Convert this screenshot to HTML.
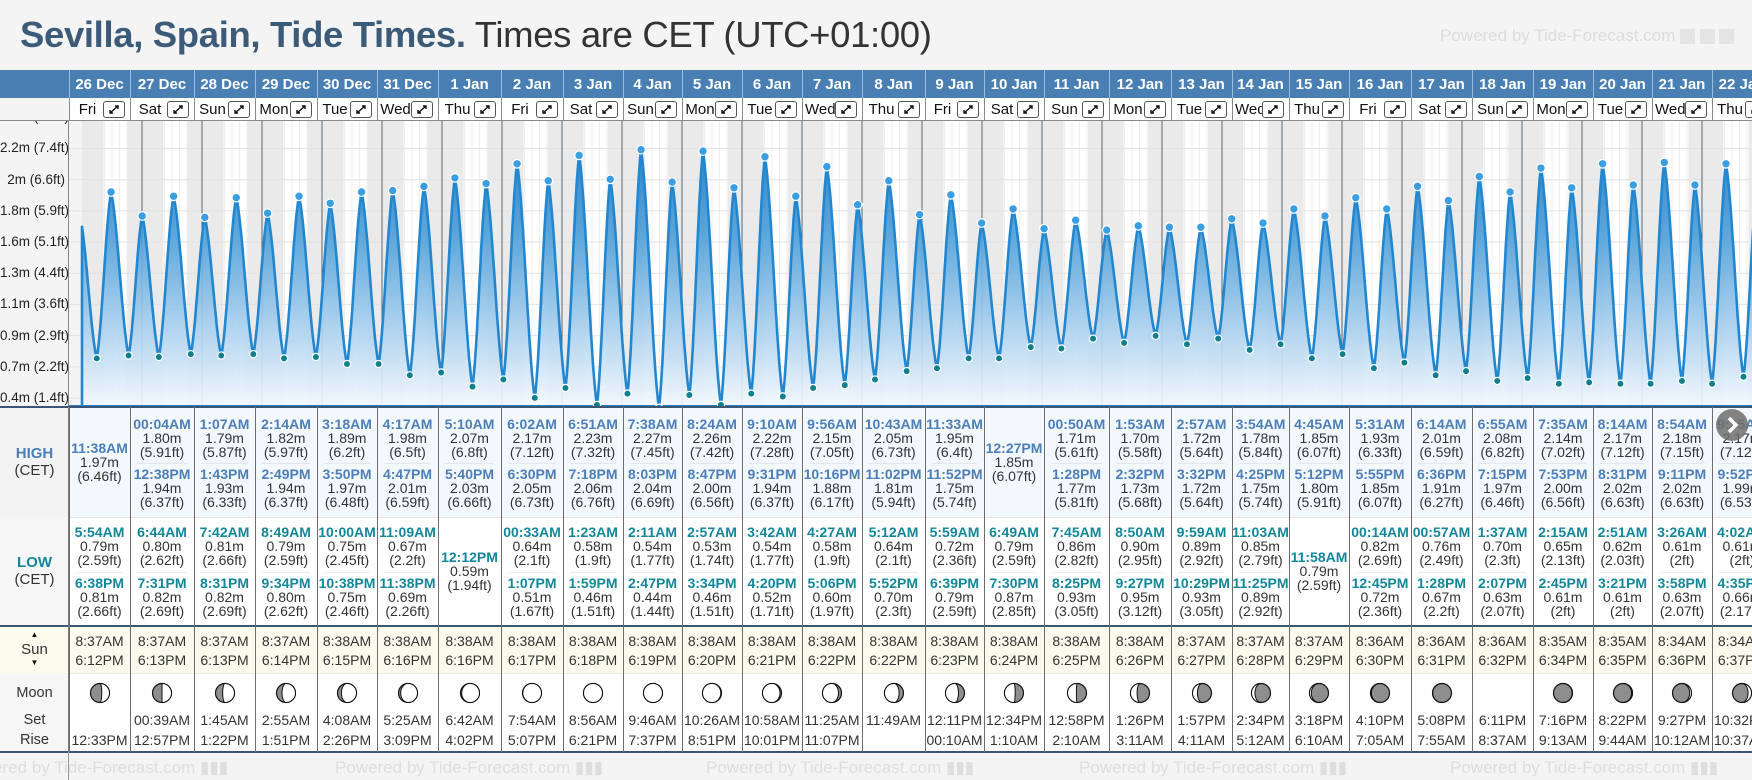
<!DOCTYPE html>
<html><head><meta charset="utf-8"><title>Sevilla Tide Times</title>
<style>
html,body{margin:0;padding:0;}
body{width:1752px;height:780px;overflow:hidden;background:#f4f4f4;font-family:"Liberation Sans",Arial,sans-serif;position:relative;}
.abs{position:absolute;}
.t{position:absolute;text-align:center;white-space:nowrap;font-size:14px;line-height:14px;color:#333;}
.tb{font-weight:bold;}
</style></head>
<body>
<div class="abs" style="left:20px;top:13px;font-size:36.5px;line-height:44px;white-space:nowrap;letter-spacing:-0.35px;">
<span style="font-weight:bold;color:#3b5b79;">Sevilla, Spain, Tide Times.</span>
<span style="color:#333;">Times are CET (UTC+01:00)</span></div>
<div class="abs" style="left:1440px;top:26px;font-size:17px;color:#dcdcdc;white-space:nowrap;">Powered by Tide-Forecast.com <span style="display:inline-block;width:15px;height:15px;background:#e4e4e4;vertical-align:middle"></span> <span style="display:inline-block;width:15px;height:15px;background:#e4e4e4;vertical-align:middle"></span> <span style="display:inline-block;width:15px;height:15px;background:#e4e4e4;vertical-align:middle"></span></div>

<div id="root"></div>
<svg id="chart" class="abs" style="left:0;top:0" width="1752" height="780"></svg>
<div id="tbl"></div>

<script>
// ---- data ----
const dates=['26 Dec','27 Dec','28 Dec','29 Dec','30 Dec','31 Dec','1 Jan','2 Jan','3 Jan','4 Jan','5 Jan','6 Jan','7 Jan','8 Jan','9 Jan','10 Jan','11 Jan','12 Jan','13 Jan','14 Jan','15 Jan','16 Jan','17 Jan','18 Jan','19 Jan','20 Jan','21 Jan','22 Jan'];
const weekdays=['Fri','Sat','Sun','Mon','Tue','Wed','Thu','Fri','Sat','Sun','Mon','Tue','Wed','Thu','Fri','Sat','Sun','Mon','Tue','Wed','Thu','Fri','Sat','Sun','Mon','Tue','Wed','Thu'];
const highT=[['11:38AM'],['00:04AM','12:38PM'],['1:07AM','1:43PM'],['2:14AM','2:49PM'],['3:18AM','3:50PM'],['4:17AM','4:47PM'],['5:10AM','5:40PM'],['6:02AM','6:30PM'],['6:51AM','7:18PM'],['7:38AM','8:03PM'],['8:24AM','8:47PM'],['9:10AM','9:31PM'],['9:56AM','10:16PM'],['10:43AM','11:02PM'],['11:33AM','11:52PM'],['12:27PM'],['00:50AM','1:28PM'],['1:53AM','2:32PM'],['2:57AM','3:32PM'],['3:54AM','4:25PM'],['4:45AM','5:12PM'],['5:31AM','5:55PM'],['6:14AM','6:36PM'],['6:55AM','7:15PM'],['7:35AM','7:53PM'],['8:14AM','8:31PM'],['8:54AM','9:11PM'],['9:35AM','9:52PM']];
const highM=[[1.97],[1.80,1.94],[1.79,1.93],[1.82,1.94],[1.89,1.97],[1.98,2.01],[2.07,2.03],[2.17,2.05],[2.23,2.06],[2.27,2.04],[2.26,2.00],[2.22,1.94],[2.15,1.88],[2.05,1.81],[1.95,1.75],[1.85],[1.71,1.77],[1.70,1.73],[1.72,1.72],[1.78,1.75],[1.85,1.80],[1.93,1.85],[2.01,1.91],[2.08,1.97],[2.14,2.00],[2.17,2.02],[2.18,2.02],[2.17,1.99]];
const highFt=[['6.46'],['5.91','6.37'],['5.87','6.33'],['5.97','6.37'],['6.2','6.48'],['6.5','6.59'],['6.8','6.66'],['7.12','6.73'],['7.32','6.76'],['7.45','6.69'],['7.42','6.56'],['7.28','6.37'],['7.05','6.17'],['6.73','5.94'],['6.4','5.74'],['6.07'],['5.61','5.81'],['5.58','5.68'],['5.64','5.64'],['5.84','5.74'],['6.07','5.91'],['6.33','6.07'],['6.59','6.27'],['6.82','6.46'],['7.02','6.56'],['7.12','6.63'],['7.15','6.63'],['7.12','6.53']];
const lowT=[['5:54AM','6:38PM'],['6:44AM','7:31PM'],['7:42AM','8:31PM'],['8:49AM','9:34PM'],['10:00AM','10:38PM'],['11:09AM','11:38PM'],['12:12PM'],['00:33AM','1:07PM'],['1:23AM','1:59PM'],['2:11AM','2:47PM'],['2:57AM','3:34PM'],['3:42AM','4:20PM'],['4:27AM','5:06PM'],['5:12AM','5:52PM'],['5:59AM','6:39PM'],['6:49AM','7:30PM'],['7:45AM','8:25PM'],['8:50AM','9:27PM'],['9:59AM','10:29PM'],['11:03AM','11:25PM'],['11:58AM'],['00:14AM','12:45PM'],['00:57AM','1:28PM'],['1:37AM','2:07PM'],['2:15AM','2:45PM'],['2:51AM','3:21PM'],['3:26AM','3:58PM'],['4:02AM','4:35PM']];
const lowM=[[0.79,0.81],[0.80,0.82],[0.81,0.82],[0.79,0.80],[0.75,0.75],[0.67,0.69],[0.59],[0.64,0.51],[0.58,0.46],[0.54,0.44],[0.53,0.46],[0.54,0.52],[0.58,0.60],[0.64,0.70],[0.72,0.79],[0.79,0.87],[0.86,0.93],[0.90,0.95],[0.89,0.93],[0.85,0.89],[0.79],[0.82,0.72],[0.76,0.67],[0.70,0.63],[0.65,0.61],[0.62,0.61],[0.61,0.63],[0.61,0.66]];
const lowFt=[['2.59','2.66'],['2.62','2.69'],['2.66','2.69'],['2.59','2.62'],['2.45','2.46'],['2.2','2.26'],['1.94'],['2.1','1.67'],['1.9','1.51'],['1.77','1.44'],['1.74','1.51'],['1.77','1.71'],['1.9','1.97'],['2.1','2.3'],['2.36','2.59'],['2.59','2.85'],['2.82','3.05'],['2.95','3.12'],['2.92','3.05'],['2.79','2.92'],['2.59'],['2.69','2.36'],['2.49','2.2'],['2.3','2.07'],['2.13','2'],['2.03','2'],['2','2.07'],['2','2.17']];
const sunRise=['8:37AM','8:37AM','8:37AM','8:37AM','8:38AM','8:38AM','8:38AM','8:38AM','8:38AM','8:38AM','8:38AM','8:38AM','8:38AM','8:38AM','8:38AM','8:38AM','8:38AM','8:38AM','8:37AM','8:37AM','8:37AM','8:36AM','8:36AM','8:36AM','8:35AM','8:35AM','8:34AM','8:34AM'];
const sunSet=['6:12PM','6:13PM','6:13PM','6:14PM','6:15PM','6:16PM','6:16PM','6:17PM','6:18PM','6:19PM','6:20PM','6:21PM','6:22PM','6:22PM','6:23PM','6:24PM','6:25PM','6:26PM','6:27PM','6:28PM','6:29PM','6:30PM','6:31PM','6:32PM','6:34PM','6:35PM','6:36PM','6:37PM'];
const moonSet=['','00:39AM','1:45AM','2:55AM','4:08AM','5:25AM','6:42AM','7:54AM','8:56AM','9:46AM','10:26AM','10:58AM','11:25AM','11:49AM','12:11PM','12:34PM','12:58PM','1:26PM','1:57PM','2:34PM','3:18PM','4:10PM','5:08PM','6:11PM','7:16PM','8:22PM','9:27PM','10:32PM'];
const moonRise=['12:33PM','12:57PM','1:22PM','1:51PM','2:26PM','3:09PM','4:02PM','5:07PM','6:21PM','7:37PM','8:51PM','10:01PM','11:07PM','','00:10AM','1:10AM','2:10AM','3:11AM','4:11AM','5:12AM','6:10AM','7:05AM','7:55AM','8:37AM','9:13AM','9:44AM','10:12AM','10:37AM'];
const moonPhase=[0.22,0.25,0.29,0.32,0.35,0.39,0.42,0.46,0.49,0.52,0.56,0.59,0.63,0.66,0.69,0.73,0.76,0.80,0.83,0.86,0.90,0.93,0.97,null,0.04,0.07,0.10,0.14];
const priorHigh={t:-0.83,m:1.80};
const tickVals=[0.509,0.730,0.951,1.173,1.394,1.615,1.836,2.057,2.279,2.500];
const tickLabels=['0.4m (1.4ft)','0.7m (2.2ft)','0.9m (2.9ft)','1.1m (3.6ft)','1.3m (4.4ft)','1.6m (5.1ft)','1.8m (5.9ft)','2m (6.6ft)','2.2m (7.4ft)','2.5m (8.1ft)'];

// ---- layout ----
const colX=[69,130,194,255,317,377,438,501,563,623,682,742,802,862,925,984,1044,1109,1171,1232,1289,1349,1411,1472,1533,1593,1652,1712,1772];
const CT=121,CB=407,CL=69;
function xT(h){return 82+h*2.5;}
function yV(v){return 192-(v-1.97)*141;}
function parseT(s){const m=s.match(/(\d+):(\d+)(AM|PM)/);let h=+m[1]%12;if(m[3]==='PM')h+=12;return h+ (+m[2])/60;}

const NS='http://www.w3.org/2000/svg';
const svg=document.getElementById('chart');
function S(tag,attrs,parent){const e=document.createElementNS(NS,tag);for(const k in attrs)e.setAttribute(k,attrs[k]);(parent||svg).appendChild(e);return e;}

const defs=S('defs',{});
const cp=S('clipPath',{id:'cc'},defs);S('rect',{x:CL,y:CT,width:1752-CL,height:CB-CT},cp);
const lg=S('linearGradient',{id:'fg',x1:0,y1:140,x2:0,y2:407,gradientUnits:'userSpaceOnUse'},defs);
[['0','#1f78c1'],['0.35','#4e9fd8'],['0.7','#a9d0ee'],['1','#f3f8fd']].forEach(s=>S('stop',{offset:s[0],'stop-color':s[1]},lg));

const g=S('g',{'clip-path':'url(#cc)'});


S('rect',{x:CL,y:CT,width:1752-CL,height:CB-CT,fill:'#ffffff'},g);
for(let h=3;h<28*24;h+=3){if(h%24===0)continue;S('line',{x1:xT(h),x2:xT(h),y1:CT,y2:CB,stroke:'#efefef','stroke-width':1},g);}
const nightG=S('g',{},g);


S('rect',{x:CL,y:CT,width:xT(parseT(sunRise[0]))-CL,height:CB-CT,fill:'#eaeaea'},nightG);
for(let d=0;d<dates.length;d++){
  const s=xT(d*24+parseT(sunSet[d]));
  const e=d+1<dates.length?xT((d+1)*24+parseT(sunRise[d+1])):1760;
  S('rect',{x:s,y:CT,width:e-s,height:CB-CT,fill:'#eaeaea'},nightG);
}
S('rect',{x:CL,y:CT,width:82-CL,height:CB-CT,fill:'#f4f4f4'},g);
tickVals.forEach(v=>S('line',{x1:CL,x2:1752,y1:yV(v),y2:yV(v),stroke:'#e2e2e2','stroke-width':1},g));
for(let d=1;d<dates.length;d++){const l=S('line',{x1:xT(d*24),x2:xT(d*24),y1:CT,y2:CB,stroke:'#56677a','stroke-width':1},g);

}

const ev=[{t:priorHigh.t,m:priorHigh.m,hi:true,vis:false}];
for(let d=0;d<dates.length;d++){
  highT[d].forEach((s,i)=>ev.push({t:d*24+parseT(s),m:highM[d][i],hi:true,vis:true}));
  lowT[d].forEach((s,i)=>ev.push({t:d*24+parseT(s),m:lowM[d][i],hi:false,vis:true}));
}
ev.sort((a,b)=>a.t-b.t);
const pts=[];
for(let i=0;i<ev.length-1;i++){
  const a=ev[i],b=ev[i+1];
  for(let k=0;k<24;k++){
    const f=k/24;const c=(1-Math.cos(Math.PI*f))/2;const ff=0.45*f+0.55*c;
    const t=a.t+(b.t-a.t)*f;if(t<0)continue;
    pts.push([xT(t),yV(a.m+(b.m-a.m)*ff)]);
  }
}
const last=ev[ev.length-1];pts.push([xT(last.t),yV(last.m)]);
const e0=ev[0],e1=ev[1];const f0=(0-e0.t)/(e1.t-e0.t);const c0=(1-Math.cos(Math.PI*f0))/2;
pts.unshift([xT(0),yV(e0.m+(e1.m-e0.m)*(0.45*f0+0.55*c0))]);
let dA='M'+xT(0)+','+CB+' '+pts.map(p=>'L'+p[0].toFixed(1)+','+p[1].toFixed(1)).join(' ')+' L'+pts[pts.length-1][0]+','+CB+' Z';
const area=S('path',{d:dA,fill:'url(#fg)','fill-opacity':0.92},g);


const line=S('path',{d:'M'+xT(0)+','+(CB-1)+' '+pts.map(p=>'L'+p[0].toFixed(1)+','+p[1].toFixed(1)).join(' '),fill:'none',stroke:'#2387d0','stroke-width':2.6,'stroke-linejoin':'round'},g);


S('line',{x1:CL,x2:1752,y1:CB-1,y2:CB-1,stroke:'#2a80c4','stroke-width':2},g);
ev.forEach(e=>{if(!e.vis)return;
  const c=S('circle',{cx:xT(e.t),cy:yV(e.m),r:e.hi?4.3:3.6,fill:e.hi?'#3a9ee0':'#0f7f8e',stroke:'#fff','stroke-width':1.2},g);
  
  
});

const root=document.getElementById('root');
function box(x,y,w,h,bg,name,inter,parent){const d=document.createElement('div');d.className='abs';d.style.cssText=`left:${x}px;top:${y}px;width:${w}px;height:${h}px;background:${bg};`;


(parent||root).appendChild(d);return d;}
function txt(x,y,w,s,css,name,parent){const d=document.createElement('div');d.className='t';d.style.cssText=`left:${x}px;top:${y}px;width:${w}px;`+(css||'');d.textContent=s;


(parent||root).appendChild(d);return d;}

const tbl=document.getElementById('tbl');
const yl=box(0,CT,CL,CB-CT,'#f4f4f4','y-axis',false,tbl);yl.style.overflow='hidden';
tickVals.forEach((v,i)=>{txt(0,yV(v)-CT-7,65,tickLabels[i],'text-align:right;font-size:13.5px;color:#222;','y-tick-label',yl);});
box(CL-1,CT,1,CB-CT,'#888','y-axis-line',false,tbl);
box(0,70,1752,28,'#4a7fb4','date-header',false,tbl);
box(0,98,1752,23,'#ffffff','weekday-row',false,tbl);
box(0,98,CL,23,'#f4f4f4','weekday-row-label',false,tbl);
box(0,120,1752,1,'#8a8a8a','weekday-row-border',false,tbl);
for(let d=0;d<dates.length;d++){
  const x=colX[d],w=colX[d+1]-x;
  txt(x,77,w,dates[d],'color:#fff;font-weight:bold;font-size:15px;line-height:15px;','date-label',tbl);
  box(x,70,1,28,'#9dbbda','date-divider',false,tbl);
  box(x,98,1,23,'#8a8a8a','weekday-divider',false,tbl);
  txt(x+3,102,w-30,weekdays[d],'font-size:15px;line-height:15px;color:#111;','weekday-label',tbl);
  const b=box(x+w-27,101,22,17,'#fff','expand-day-button',true,tbl);
  b.style.border='1px solid #555';b.style.borderRadius='3px';b.style.boxSizing='border-box';
  b.innerHTML='<svg width="20" height="15" style="position:absolute;left:0;top:0"><path d="M6 11 L14 4 M11 4 L14 4 L14 7 M6 8 L6 11 L9 11" stroke="#111" stroke-width="1.4" fill="none"/></svg>';
}
box(0,407,1752,110,'#f3f8fd','high-row',false,tbl);
box(0,407,CL,110,'#f3f3f3','high-label-cell',false,tbl);
box(0,517,1752,109,'#ffffff','low-row',false,tbl);
box(0,517,CL,109,'#f6f6f6','low-label-cell',false,tbl);
box(0,626,1752,47,'#fbfbed','sun-row',false,tbl);
box(0,673,1752,79,'#ffffff','moon-row',false,tbl);
box(0,673,CL,79,'#f6f6f6','moon-label-cell',false,tbl);
box(0,406,1752,2,'#3b5672','chart-bottom-border',false,tbl);
box(CL,517,1752,1,'#e6e6e6','high-low-divider',false,tbl);
box(0,625,1752,2,'#3b5672','sun-row-border',false,tbl);
box(CL,673,1752,1,'#e8e8e8','moon-row-border',false,tbl);
box(0,751,1752,2,'#3b5672','table-bottom-border',false,tbl);
box(CL-1,407,1,345,'#777','label-column-border',false,tbl);

txt(0,447,CL,'HIGH','font-weight:bold;color:#4c7fb8;font-size:15px;','high-label',tbl);
txt(0,464,CL,'(CET)','font-size:15px;','high-tz-label',tbl);
txt(0,556,CL,'LOW','font-weight:bold;color:#12879a;font-size:15px;','low-label',tbl);
txt(0,573,CL,'(CET)','font-size:15px;','low-tz-label',tbl);
txt(0,631,CL,'▲','font-size:8px;line-height:8px;color:#111;','sunrise-arrow',tbl);
txt(0,643,CL,'Sun','font-size:15px;','sun-label',tbl);
txt(0,659,CL,'▼','font-size:8px;line-height:8px;color:#111;','sunset-arrow',tbl);
txt(0,686,CL,'Moon','font-size:14.5px;','moon-label',tbl);
txt(0,713,CL,'Set','font-size:14.5px;','moonset-label',tbl);
txt(0,733,CL,'Rise','font-size:14.5px;','moonrise-label',tbl);

function entry(x,w,cy,t,m,ft,col,name){
  txt(x,cy-21,w,t,'font-weight:bold;color:'+col+';font-size:14px;',name+'-time',tbl);
  txt(x,cy-7,w,m.toFixed(2)+'m','',name+'-height-m',tbl);
  txt(x,cy+7,w,'('+ft+'ft)','',name+'-height-ft',tbl);
}
function moonSvg(p){
  const r=9.5,cx=11,cy=11;
  let s=`<svg width="22" height="22" style="position:absolute;left:0;top:0"><circle cx="${cx}" cy="${cy}" r="${r}" fill="#8e8e8e" stroke="#111" stroke-width="1.2"/>`;
  const waxing=p<0.5;const k=Math.cos(2*Math.PI*p);const rx=Math.abs(k)*r;
  const gib=(p>0.25&&p<0.75);
  const side=waxing?1:0;
  const sweep2=gib?(waxing?1:0):(waxing?0:1);
  s+=`<path d="M${cx},${cy-r} A${r},${r} 0 0 ${side} ${cx},${cy+r} A${rx.toFixed(2)},${r} 0 0 ${sweep2} ${cx},${cy-r} Z" fill="#fff" stroke="#111" stroke-width="1"/>`;
  s+='</svg>';return s;
}
for(let d=0;d<dates.length;d++){
  const x=colX[d],w=colX[d+1]-x;
  box(x,407,1,345,'#6e6e6e','column-divider',false,tbl);
  if(highT[d].length===1) entry(x,w,462,highT[d][0],highM[d][0],highFt[d][0],'#4c7fb8','high-tide');
  else{
    entry(x,w,438,highT[d][0],highM[d][0],highFt[d][0],'#4c7fb8','high-tide');
    box(x+7,463,w-14,1,'#e3e8ee','high-separator',false,tbl);
    entry(x,w,488,highT[d][1],highM[d][1],highFt[d][1],'#4c7fb8','high-tide');
  }
  if(lowT[d].length===1) entry(x,w,571,lowT[d][0],lowM[d][0],lowFt[d][0],'#12879a','low-tide');
  else{
    entry(x,w,546,lowT[d][0],lowM[d][0],lowFt[d][0],'#12879a','low-tide');
    box(x+7,572,w-14,1,'#ececec','low-separator',false,tbl);
    entry(x,w,597,lowT[d][1],lowM[d][1],lowFt[d][1],'#12879a','low-tide');
  }
  txt(x,634,w,sunRise[d],'','sunrise-time',tbl);
  txt(x,653,w,sunSet[d],'','sunset-time',tbl);
  if(moonPhase[d]!==null){const m=box(x+w/2-11,682,22,22,'transparent','moon-phase-icon',false,tbl);m.innerHTML=moonSvg(moonPhase[d]);}
  txt(x,713,w,moonSet[d],'','moonset-time',tbl);
  txt(x,733,w,moonRise[d],'','moonrise-time',tbl);
}
const nb=box(1716,409,32,32,'rgba(110,110,110,0.85)','next-button',true,tbl);
nb.style.borderRadius='50%';nb.innerHTML='<svg width="32" height="32"><path d="M13 9 L20 16 L13 23" stroke="#fff" stroke-width="3.5" fill="none"/></svg>';
[-40,335,706,1079,1450].forEach(x=>{txt(x,759,330,'Powered by Tide-Forecast.com ▮▮▮','text-align:left;font-size:17px;line-height:18px;color:#dedede;','footer-watermark',tbl);});
box(CL-1,752,1,28,'#999','footer-divider',false,tbl);
</script>
</body></html>
